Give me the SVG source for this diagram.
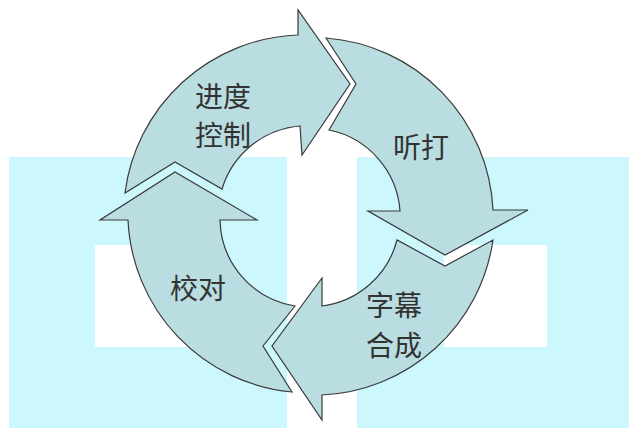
<svg xmlns="http://www.w3.org/2000/svg" width="629" height="428" viewBox="0 0 629 428">
  <style>
    .bg { fill: #ccf7fc; }
    .hole { fill: #ffffff; }
    .arrow { fill: #b9dde0; stroke: #3a3a3a; stroke-width: 1.2; stroke-linejoin: miter; }
    .lbl { font-family: "Noto Sans CJK SC", "Noto Sans", sans-serif; font-size: 28px; fill: #333333; text-anchor: middle; dominant-baseline: central; }
  </style>
  <rect width="629" height="428" fill="#ffffff"/>
  <g id="background">
    <rect class="bg" x="9" y="157" width="278" height="271"/>
    <rect class="bg" x="357" y="157" width="272" height="271"/>
    <rect class="hole" x="95" y="245" width="105" height="102"/>
    <rect class="hole" x="444" y="245" width="103" height="102"/>
  </g>
  <g id="connectors"></g>
  <g id="node-jindu">
    <path class="arrow" d="M125,193 A181,181 0 0 1 298,35 L298,10 L350,84 L302,155 L300,126 A89,89 0 0 0 222,189 L175,162 Z"/>
    <text class="lbl" x="223" y="95">进度</text>
    <text class="lbl" x="223" y="134">控制</text>
  </g>
  <g id="node-tingda">
    <path class="arrow" d="M326,38 A181,181 0 0 1 493,210 L528,210 L445,255 L368,211 L400,211 A89,89 0 0 0 329,130 L356,84 Z"/>
    <text class="lbl" x="421" y="146">听打</text>
  </g>
  <g id="node-zimu">
    <path class="arrow" d="M493,240 A181,181 0 0 1 322,395 L322,420 L272,346 L322,278 L322,306 A89,89 0 0 0 397,240 L445,266 Z"/>
    <text class="lbl" x="394" y="304">字幕</text>
    <text class="lbl" x="394" y="344">合成</text>
  </g>
  <g id="node-jiaodui">
    <path class="arrow" d="M292,392 A181,181 0 0 1 128,220 L100,220 L175,172 L257,220 L220,220 A89,89 0 0 0 295,306 L263,346 Z"/>
    <text class="lbl" x="198" y="287">校对</text>
  </g>
</svg>
